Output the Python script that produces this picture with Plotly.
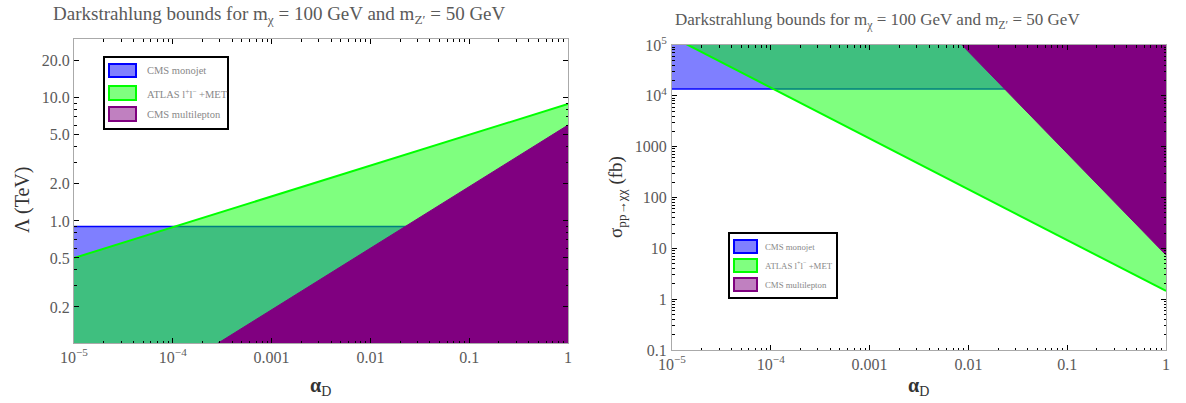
import math
import plotly.graph_objects as go

# Dark-coupling range spanned by both panels
alpha_d = [1e-5, 1.0]

# Lower bounds on the suppression scale Lambda (TeV), power-law endpoints
lambda_monojet = [0.9, 0.9]
lambda_atlas = [0.5, 8.9]
lambda_multilepton = [0.019, 6.0]

# Upper bounds on the production cross section (fb), power-law endpoints
sigma_monojet = [1.37e4, 1.37e4]
sigma_atlas = [1.45e5, 1.45]
sigma_multilepton = [7.4e10, 7.4]

series_names = ["CMS monojet", "ATLAS l<sup>+</sup>l<sup>\u2212</sup> +MET", "CMS multilepton"]

x_ticks = [1e-5, 1e-4, 1e-3, 1e-2, 1e-1, 1]
x_ticktext = ["10<sup>\u22125</sup>", "10<sup>\u22124</sup>", "0.001", "0.01", "0.1", "1"]
lam_ticks = [0.2, 0.5, 1, 2, 5, 10, 20]
lam_ticktext = ["0.2", "0.5", "1.0", "2.0", "5.0", "10.0", "20.0"]
sig_ticks = [0.1, 1, 10, 100, 1000, 1e4, 1e5]
sig_ticktext = ["0.1", "1", "10", "100", "1000", "10<sup>4</sup>", "10<sup>5</sup>"]

W, H = 1186, 403
FONT = "Liberation Serif"
TXT = "#5a5a5a"

fills = ["rgba(0,0,255,0.5)", "rgba(0,255,0,0.5)", "#800080"]
edges = ["#0000FF", "#00FF00", "#800080"]
edge_w = [1.5, 2, 1]

fig = go.Figure()


def region(x, y, far, xa, ya, i):
    xs = [x[0], x[0], x[1], x[1]]
    ys = [far, y[0], y[1], far]
    fig.add_trace(go.Scatter(x=xs, y=ys, fill="toself", fillcolor=fills[i],
                             line=dict(width=0), mode="lines", hoverinfo="skip",
                             xaxis=xa, yaxis=ya, showlegend=False))
    fig.add_trace(go.Scatter(x=x, y=y, mode="lines",
                             line=dict(color=edges[i], width=edge_w[i]),
                             xaxis=xa, yaxis=ya, showlegend=False))


# Left: excluded region lies below each Lambda bound
for i, lam in enumerate([lambda_monojet, lambda_atlas, lambda_multilepton]):
    region(alpha_d, lam, 1e-4, "x", "y", i)
# Right: excluded region lies above each cross-section bound
for i, sig in enumerate([sigma_monojet, sigma_atlas, sigma_multilepton]):
    region(alpha_d, sig, 1e14, "x2", "y2", i)


def px_x(p):
    return p / W


def px_y(p):
    return 1 - p / H


def minor_vals(lo_exp, hi_exp):
    out = []
    for e in range(lo_exp, hi_exp + 1):
        for m in range(2, 10):
            out.append(m * 10 ** e)
    return out


axis_common = dict(type="log", showline=True, linecolor="#AAAAAA", linewidth=1,
                   mirror="allticks", ticks="inside", tickcolor="#000000",
                   ticklen=5, tickwidth=1, showgrid=False, zeroline=False,
                   tickfont=dict(family=FONT, size=16, color=TXT), automargin=False)

xminor = dict(tickvals=minor_vals(-5, -1), ticks="inside", ticklen=2.5,
              tickcolor="#000000", showgrid=False)

fig.update_layout(
    width=W, height=H, margin=dict(l=0, r=0, t=0, b=0),
    paper_bgcolor="white", plot_bgcolor="white", showlegend=False,
    xaxis=dict(axis_common, domain=[px_x(74), px_x(568)], range=[-5, 0],
               tickvals=x_ticks, ticktext=x_ticktext, minor=xminor, anchor="y"),
    yaxis=dict(axis_common, domain=[px_y(343), px_y(39)],
               range=[math.log10(0.102), math.log10(30)],
               tickvals=lam_ticks, ticktext=lam_ticktext, anchor="x",
               minor=dict(tickvals=[0.3, 0.4, 0.6, 0.7, 0.8, 0.9, 3, 4, 6, 7, 8, 9],
                          ticks="inside", ticklen=2.5, tickcolor="#000000", showgrid=False)),
    xaxis2=dict(axis_common, domain=[px_x(672), px_x(1166)], range=[-5, 0],
                tickvals=x_ticks, ticktext=x_ticktext, minor=xminor, anchor="y2"),
    yaxis2=dict(axis_common, domain=[px_y(350), px_y(45)], range=[-1, 5],
                tickvals=sig_ticks, ticktext=sig_ticktext, anchor="x2", ticklabelstandoff=1,
                minor=dict(tickvals=minor_vals(-1, 4), ticks="inside", ticklen=2.5,
                           tickcolor="#000000", showgrid=False)),
)

title = "Darkstrahlung bounds for m<sub>\u03c7</sub> = 100 GeV and m<sub>Z\u2032</sub> = 50 GeV"
ann = [
    dict(x=px_x(279), y=px_y(15), text=title, font=dict(family=FONT, size=19, color=TXT)),
    dict(x=px_x(877), y=px_y(21), text=title, font=dict(family=FONT, size=17, color=TXT)),
    dict(x=px_x(22), y=px_y(200), text="\u039b (TeV)", textangle=-90,
         font=dict(family=FONT, size=20, color="#333333")),
    dict(x=px_x(320), y=px_y(386), text="<b>\u03b1</b><sub>D</sub>",
         font=dict(family=FONT, size=20, color="#333333")),
    dict(x=px_x(617), y=px_y(197), text="\u03c3<sub>pp\u2192\u03c7\u03c7</sub> (fb)", textangle=-90,
         font=dict(family=FONT, size=19, color="#333333")),
    dict(x=px_x(918), y=px_y(386), text="<b>\u03b1</b><sub>D</sub>",
         font=dict(family=FONT, size=20, color="#333333")),
]
for a in ann:
    a.update(xref="paper", yref="paper", showarrow=False, xanchor="center", yanchor="middle")

# Legend boxes drawn as shapes with text labels
swatch_fill = ["#8080FF", "#80FF80", "#C080C0"]
shapes = []


def legend(box, sw_x, rows, text_x, fsize):
    x0, y0, x1, y1 = box
    shapes.append(dict(type="rect", xref="paper", yref="paper",
                       x0=px_x(x0), x1=px_x(x1), y0=px_y(y1), y1=px_y(y0),
                       line=dict(color="#000000", width=2), fillcolor="white", layer="above"))
    for i, (ra, rb) in enumerate(rows):
        shapes.append(dict(type="rect", xref="paper", yref="paper",
                           x0=px_x(sw_x[0]), x1=px_x(sw_x[1]), y0=px_y(rb), y1=px_y(ra),
                           line=dict(color=edges[i], width=2), fillcolor=swatch_fill[i],
                           layer="above"))
        ann.append(dict(x=px_x(text_x), y=px_y((ra + rb) / 2), text=series_names[i],
                        xref="paper", yref="paper", showarrow=False, xanchor="left",
                        yanchor="middle", font=dict(family=FONT, size=fsize, color="#888888")))


legend((104, 57, 228, 129), (109, 136), [(64, 77), (86, 100), (107, 121)], 145, 10.5)
legend((729, 233, 837, 298), (734, 757), [(240, 253), (259, 272), (278, 291)], 763, 8.8)

fig.update_layout(annotations=ann, shapes=shapes)
fig.write_html("out.html")
